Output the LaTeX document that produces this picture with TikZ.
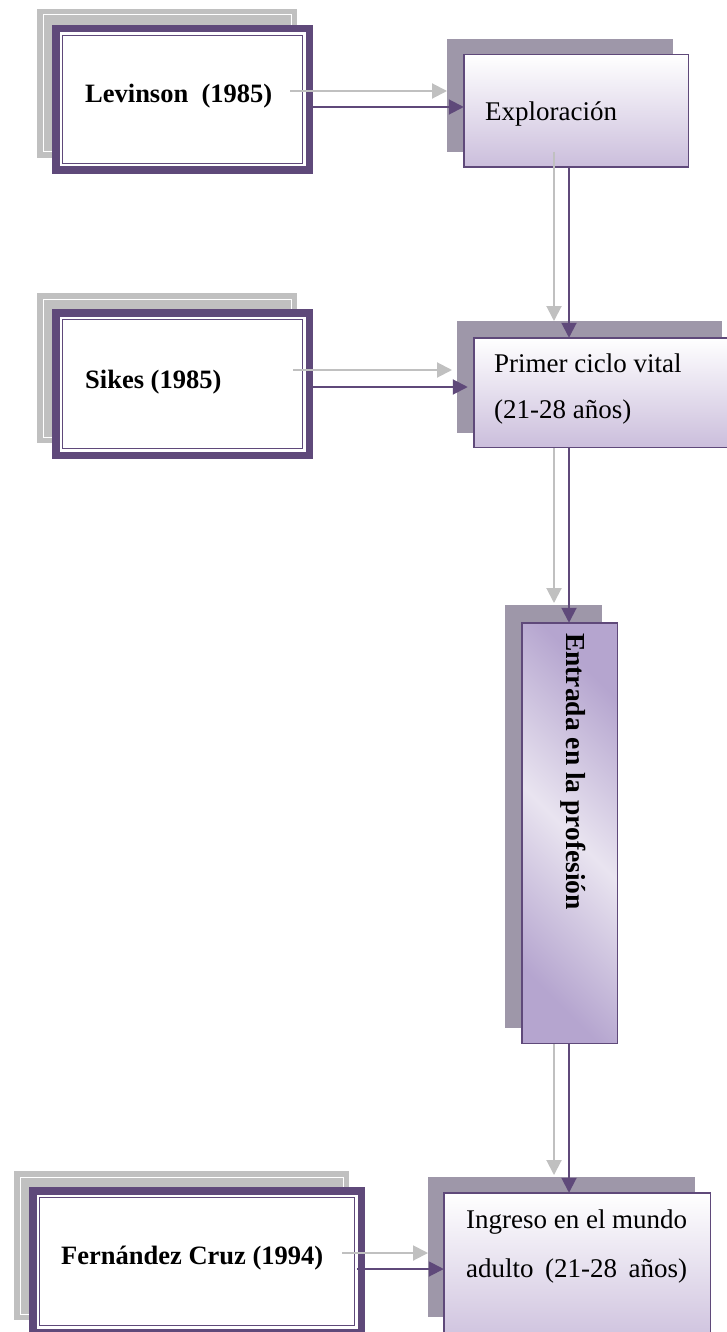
\documentclass[tikz,border=0pt]{standalone}
\usepackage{fontspec}
\setmainfont{Liberation Serif}
\usetikzlibrary{arrows.meta,calc}
\definecolor{pu}{HTML}{5F497A}
\definecolor{gr}{HTML}{C0C0C0}
\definecolor{shd}{HTML}{9E97A9}
\definecolor{lav}{HTML}{CBBEDC}
\definecolor{lavd}{HTML}{B5A5CF}
\definecolor{lavl}{HTML}{E9E4F0}
% name, x1, y1, x2, y2, style
\newcommand\mkbox[6]{%
  \node[#6, inner sep=0pt, outer sep=0pt, minimum width={(#4)-(#2)}, minimum height={(#5)-(#3)}] (#1) at ({((#2)+(#4))/2},{((#3)+(#5))/2}) {};}
% source box: name, outer x1 y1 x2 y2 of the purple frame
\newcommand\srcbox[5]{%
  \mkbox{#1sh}{#2-15}{#3-16}{#4-16}{#5-16}{fill=gr}
  \draw[white, line width=1pt] ([shift={(6,6)}]#1sh.north west) rectangle ([shift={(-6,-6)}]#1sh.south east);
  \mkbox{#1}{#2+3.75}{#3+3.75}{#4-3.75}{#5-3.75}{draw=pu, line width=7.5pt, fill=white}
  \draw[pu, line width=1.5pt] ([shift={(6.8,6.8)}]#1.north west) rectangle ([shift={(-6.8,-6.8)}]#1.south east);}
\begin{document}
\begin{tikzpicture}[x=1pt, y=-1pt,
  garrow/.style={gr, line width=2pt, -{Triangle[length=15pt,width=15pt]}},
  parrow/.style={pu, line width=2pt, -{Triangle[length=15pt,width=15pt]}},
  btxt/.style={anchor=base west, inner sep=0pt, font=\fontsize{26.5}{30}\selectfont\bfseries},
  rtxt/.style={anchor=base west, inner sep=0pt, font=\fontsize{27}{30}\selectfont},
  stagebox/.style={draw=pu, line width=1.5pt, top color=white, bottom color=lav}]
\useasboundingbox (0,0) rectangle (727,1332);
\clip (0,0) rectangle (727,1332);
\fill[white] (0,0) rectangle (727,1332);

% ---- left source boxes
\srcbox{lev}{52}{25}{313}{174}
\node[btxt] (levt) at (85,103) {Levinson\ \ (1985)};

\srcbox{sik}{52}{309}{313}{459}
\node[btxt] (sikt) at (85,388) {Sikes (1985)};

\srcbox{fer}{29}{1187}{365}{1336}
\node[btxt] (fert) at (61,1264) {Fernández Cruz (1994)};

% ---- right stage boxes
\mkbox{explsh}{447}{39}{673}{152}{fill=shd}
\mkbox{expl}{463.75}{54.75}{688.25}{167.25}{stagebox}
\node[rtxt] (explt) at (485,121) {Exploración};

\mkbox{primsh}{457}{321}{722}{433}{fill=shd}
\mkbox{prim}{473.75}{337.75}{745}{447.25}{stagebox}
\node[rtxt] (primt1) at (494,372) {Primer ciclo vital};
\node[rtxt] (primt2) at (494,418) {(21-28 años)};

\mkbox{entsh}{505}{605}{602}{1028}{fill=shd}
\mkbox{ent}{521.75}{622.75}{617.25}{1043.25}{draw=pu, line width=1.5pt, top color=lavd, bottom color=lavd, middle color=lavl, shading angle=-45}
\node[anchor=base west, inner sep=0pt, rotate=-90, font=\fontsize{27.5}{30}\selectfont\bfseries] (entt) at (566,633) {Entrada en la profesión};

\mkbox{ingsh}{428}{1177}{695}{1317}{fill=shd}
\mkbox{ing}{443.75}{1192.75}{710.25}{1350}{stagebox}
\node[rtxt] (ingt1) at (466,1228) {\makebox[221pt][s]{Ingreso en el mundo}};
\node[rtxt] (ingt2) at (466,1277) {\makebox[221pt][s]{adulto (21-28 años)}};

% ---- connectors
\coordinate (g1) at (290,91);
\coordinate (p1) at (313,107);
\draw[garrow] (g1) -- (explsh.west |- g1);
\draw[parrow] (p1) -- (expl.west |- p1);

\coordinate (g2) at (554,152);
\coordinate (p2) at (569,168);
\draw[garrow] (g2) -- (g2 |- primsh.north);
\draw[parrow] (p2) -- (p2 |- prim.north);

\coordinate (g3) at (293,370);
\coordinate (p3) at (313,387);
\draw[garrow, shorten >=5pt] (g3) -- (primsh.west |- g3);
\draw[parrow, shorten >=6pt] (p3) -- (prim.west |- p3);

\coordinate (g4) at (554,448);
\coordinate (p4) at (569,448);
\draw[garrow, shorten >=2pt] (g4) -- (g4 |- entsh.north);
\draw[parrow] (p4) -- (p4 |- ent.north);

\coordinate (g5) at (554,1044);
\coordinate (p5) at (569,1044);
\draw[garrow, shorten >=2pt] (g5) -- (g5 |- ingsh.north);
\draw[parrow] (p5) -- (p5 |- ing.north);

\coordinate (g6) at (342,1253);
\coordinate (p6) at (357,1269);
\draw[garrow] (g6) -- (ingsh.west |- g6);
\draw[parrow] (p6) -- (ing.west |- p6);
\end{tikzpicture}
\end{document}
